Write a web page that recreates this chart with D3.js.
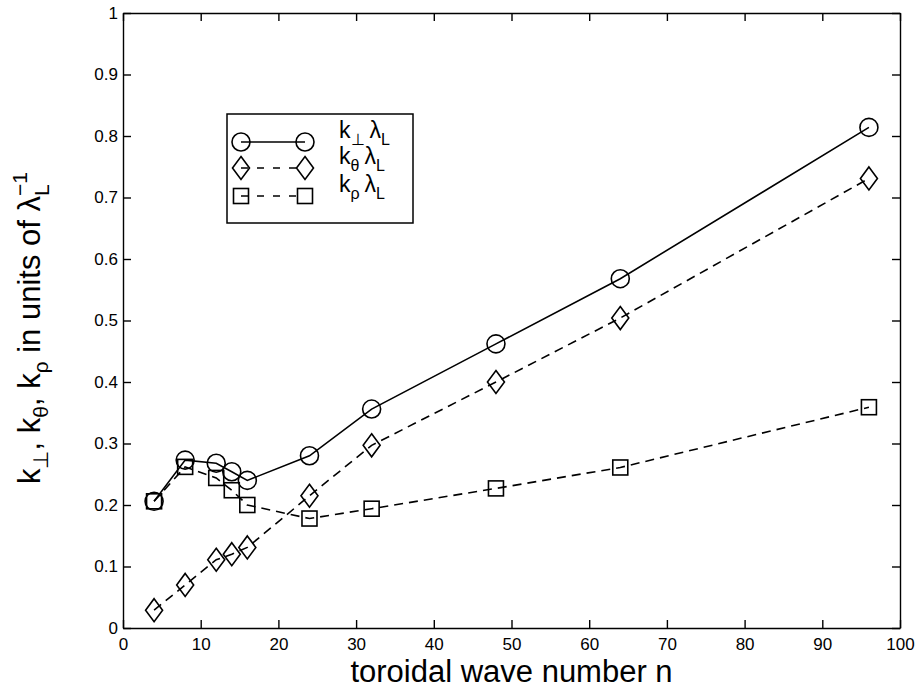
<!DOCTYPE html>
<html>
<head>
<meta charset="utf-8">
<script src="https://cdn.jsdelivr.net/npm/d3@7"></script>
<style>
  body { margin: 0; background: #fff; }
  svg { display: block; font-family: "Liberation Sans", Arial, Helvetica, sans-serif; }
  .axis path, .axis line { stroke: #000; stroke-width: 1.4; }
</style>
</head>
<body>
<div id="chart"></div>
<script>
// toroidal wave number n
var nValues = [4, 8, 12, 14, 16, 24, 32, 48, 64, 96];
// k_perp * lambda_L
var kPerp  = [0.206, 0.273, 0.268, 0.254, 0.240, 0.280, 0.356, 0.462, 0.568, 0.814];
// k_theta * lambda_L
var kTheta = [0.029, 0.070, 0.111, 0.120, 0.131, 0.215, 0.297, 0.400, 0.504, 0.731];
// k_rho * lambda_L
var kRho   = [0.206, 0.262, 0.244, 0.224, 0.200, 0.178, 0.194, 0.227, 0.261, 0.359];

var xTicks = [0, 10, 20, 30, 40, 50, 60, 70, 80, 90, 100];
var yTicks = [0, 0.1, 0.2, 0.3, 0.4, 0.5, 0.6, 0.7, 0.8, 0.9, 1];

var width = 922, height = 695;
// (window.top is reserved, so plot edges get their own names)
var plotLeft = 123, plotRight = 900, plotTop = 13, plotBottom = 628;

var svg = d3.select("#chart").append("svg")
    .attr("width", width)
    .attr("height", height);

var xScale = d3.scaleLinear().domain([0, 100]).range([plotLeft, plotRight]);
var yScale = d3.scaleLinear().domain([0, 1]).range([plotBottom, plotTop]);

var yFmt = function(d) { return d === 0 || d === 1 ? String(d) : d3.format(".1f")(d); };

// axes, ticks pointing inwards on all four sides
var axes = [
    svg.append("g").attr("transform", "translate(0," + plotBottom + ")")
        .call(d3.axisBottom(xScale).tickValues(xTicks).tickSizeInner(-8).tickSizeOuter(0).tickPadding(10)),
    svg.append("g").attr("transform", "translate(0," + plotTop + ")")
        .call(d3.axisTop(xScale).tickValues(xTicks).tickSizeInner(-8).tickSizeOuter(0).tickFormat("")),
    svg.append("g").attr("transform", "translate(" + plotLeft + ",0)")
        .call(d3.axisLeft(yScale).tickValues(yTicks).tickSizeInner(-8).tickSizeOuter(0).tickPadding(5).tickFormat(yFmt)),
    svg.append("g").attr("transform", "translate(" + plotRight + ",0)")
        .call(d3.axisRight(yScale).tickValues(yTicks).tickSizeInner(-8).tickSizeOuter(0).tickFormat(""))
];
axes.forEach(function(a) {
    a.attr("class", "axis").attr("font-size", 17).attr("font-family", null);
    a.selectAll("text").attr("fill", "#000");
    a.select(".domain").attr("stroke-width", 1.7);
});

// marker shapes
function drawMarker(g, shape, x, y) {
    if (shape == "circle") {
        g.append("circle").attr("cx", x).attr("cy", y).attr("r", 9);
    } else if (shape == "diamond") {
        g.append("path").attr("d", "M" + x + "," + (y - 11.5) + "L" + (x + 8.5) + "," + y +
            "L" + x + "," + (y + 11.5) + "L" + (x - 8.5) + "," + y + "Z");
    } else {
        g.append("rect").attr("x", x - 7.5).attr("y", y - 7.5).attr("width", 15).attr("height", 15);
    }
}

var series = [
    {vals: kPerp,  shape: "circle",  dash: null},
    {vals: kTheta, shape: "diamond", dash: "9,6"},
    {vals: kRho,   shape: "square",  dash: "9,6"}
];

var line = d3.line()
    .x(function(d) { return xScale(d[0]); })
    .y(function(d) { return yScale(d[1]); });

series.forEach(function(s) {
    var pts = nValues.map(function(n, i) { return [n, s.vals[i]]; });
    svg.append("path")
        .datum(pts)
        .attr("d", line)
        .attr("fill", "none")
        .attr("stroke", "#000")
        .attr("stroke-width", 1.6)
        .attr("stroke-dasharray", s.dash);
    var mg = svg.append("g").attr("fill", "none").attr("stroke", "#000").attr("stroke-width", 1.6);
    pts.forEach(function(p) { drawMarker(mg, s.shape, xScale(p[0]), yScale(p[1])); });
});

// legend
var legend = svg.append("g");
legend.append("rect")
    .attr("x", 227).attr("y", 114).attr("width", 186).attr("height", 109)
    .attr("fill", "#fff").attr("stroke", "#000").attr("stroke-width", 1.5);

var legendRows = [
    {shape: "circle",  dash: null,  sub: "\u22a5", y: 142},
    {shape: "diamond", dash: "7,9", sub: "\u03b8",  y: 168},
    {shape: "square",  dash: "7,9", sub: "\u03c1",  y: 196}
];
legendRows.forEach(function(r) {
    legend.append("line")
        .attr("x1", 241).attr("x2", 305).attr("y1", r.y).attr("y2", r.y)
        .attr("stroke", "#000").attr("stroke-width", 1.6)
        .attr("stroke-dasharray", r.dash);
    var mg = legend.append("g").attr("fill", "none").attr("stroke", "#000").attr("stroke-width", 1.6);
    drawMarker(mg, r.shape, 241, r.y);
    drawMarker(mg, r.shape, 305, r.y);
    var t = legend.append("text")
        .attr("x", 339).attr("y", r.y - 4)
        .attr("font-size", 23);
    t.append("tspan").text("k");
    t.append("tspan").attr("font-size", 16).attr("dy", 7).text(r.sub);
    t.append("tspan").attr("dy", -7).attr("dx", 5).text("\u03bb");
    t.append("tspan").attr("font-size", 16).attr("dy", 7).text("L");
});

// x axis title
svg.append("text")
    .attr("x", (plotLeft + plotRight) / 2).attr("y", 682)
    .attr("text-anchor", "middle")
    .attr("font-size", 31)
    .text("toroidal wave number n");

// y axis title with sub/superscripts
var yt = svg.append("text")
    .attr("transform", "translate(40,484) rotate(-90)")
    .attr("font-size", 31);
yt.append("tspan").text("k");
yt.append("tspan").attr("font-size", 21).attr("dy", 8).text("\u22a5");
yt.append("tspan").attr("dy", -8).text(", k");
yt.append("tspan").attr("font-size", 21).attr("dy", 8).text("\u03b8");
yt.append("tspan").attr("dy", -8).text(", k");
yt.append("tspan").attr("font-size", 21).attr("dy", 8).text("\u03c1");
yt.append("tspan").attr("dy", -8).text(" in units of \u03bb");
var subL = yt.append("tspan").attr("font-size", 21).attr("dy", 9).text("L");
var wL = subL.node().getComputedTextLength();
yt.append("tspan").attr("font-size", 21).attr("dx", -wL).attr("dy", -22).text("\u22121");
</script>
</body>
</html>
